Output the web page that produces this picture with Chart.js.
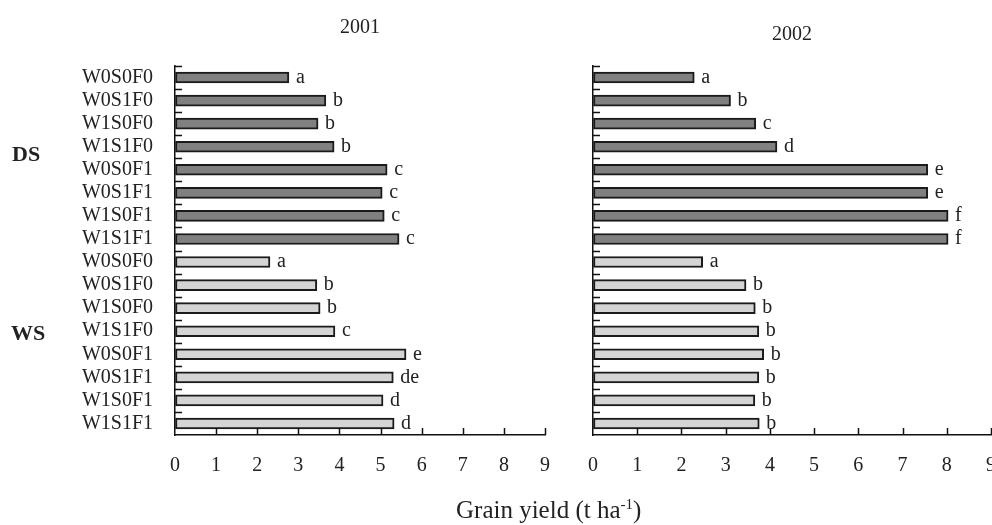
<!DOCTYPE html>
<html>
<head>
<meta charset="utf-8">
<script src="https://cdn.jsdelivr.net/npm/chart.js@4.4.0/dist/chart.umd.min.js"></script>
<style>
  body { margin: 0; background: #fff; overflow: hidden; }
  #wrap { position: relative; width: 992px; height: 525px; overflow: hidden; font-family: 'Liberation Serif', 'Times New Roman', serif; color: #222; }
  canvas { position: absolute; top: 0; }
  #chart2001 { left: 0; }
  #chart2002 { left: 560px; }
  .season { position: absolute; font-weight: bold; font-size: 22px; }
  #xtitle { position: absolute; top: 496px; left: 456px; font-size: 25px; white-space: nowrap; }
  #xtitle sup { font-size: 15px; }
</style>
</head>
<body>
<div id="wrap">
  <canvas id="chart2001" width="560" height="525"></canvas>
  <!-- wider than the page on purpose: the last "9" gets cut at the edge like the original -->
  <canvas id="chart2002" width="438" height="525"></canvas>
  <div class="season" style="left:12px; top:141px;">DS</div>
  <div class="season" style="left:11px; top:320px;">WS</div>
  <div id="xtitle">Grain yield (t ha<sup>-1</sup>)</div>
</div>
<script>
// treatments, dry season first then wet season
const treatments = ['W0S0F0', 'W0S1F0', 'W1S0F0', 'W1S1F0', 'W0S0F1', 'W0S1F1', 'W1S0F1', 'W1S1F1'];
const categories = treatments.concat(treatments);

const dsYield2001 = [2.77, 3.67, 3.48, 3.87, 5.16, 5.04, 5.09, 5.45];
const wsYield2001 = [2.31, 3.45, 3.53, 3.89, 5.62, 5.31, 5.06, 5.33];
const dsYield2002 = [2.29, 3.11, 3.68, 4.16, 7.57, 7.57, 8.03, 8.03];
const wsYield2002 = [2.48, 3.46, 3.67, 3.75, 3.86, 3.75, 3.66, 3.76];

const dsLetters2001 = ['a', 'b', 'b', 'b', 'c', 'c', 'c', 'c'];
const wsLetters2001 = ['a', 'b', 'b', 'c', 'e', 'de', 'd', 'd'];
const dsLetters2002 = ['a', 'b', 'c', 'd', 'e', 'e', 'f', 'f'];
const wsLetters2002 = ['a', 'b', 'b', 'b', 'b', 'b', 'b', 'b'];

const xTicks = [0, 1, 2, 3, 4, 5, 6, 7, 8, 9];

const DS_COLOR = '#808080';
const WS_COLOR = '#d4d4d4';
const FONT = 'Liberation Serif';

// inward tick marks on both axes + significance letters next to each bar
const marksPlugin = {
    id: 'marks',
    afterDatasetsDraw(chart) {
        const ctx = chart.ctx;
        const x = chart.scales.x;
        const y = chart.scales.y;
        ctx.save();
        ctx.strokeStyle = '#111';
        ctx.lineWidth = 1.5;
        ctx.beginPath();
        const half = (y.getPixelForValue(1) - y.getPixelForValue(0)) / 2;
        for (let i = 0; i < categories.length; i++) {
            const py = Math.round(y.getPixelForValue(i) - half) + 0.5;
            ctx.moveTo(x.left, py);
            ctx.lineTo(x.left + 7, py);
        }
        xTicks.forEach(v => {
            if (v === 0) return;
            const px = Math.round(x.getPixelForValue(v)) + 0.5;
            ctx.moveTo(px, x.top);
            ctx.lineTo(px, x.top - 7);
        });
        ctx.stroke();

        const letters = chart.options.plugins.marks.letters;
        ctx.fillStyle = '#222';
        ctx.font = '20px ' + FONT;
        ctx.textBaseline = 'middle';
        ctx.textAlign = 'left';
        chart.getDatasetMeta(0).data.forEach((bar, i) => {
            ctx.fillText(letters[i], bar.x + 7, bar.y);
        });
        ctx.restore();
    }
};

function makeChart(id, year, ds, ws, dsLetters, wsLetters, yWidth, showLabels, padRight, titlePad) {
    const values = ds.concat(ws);
    const colors = ds.map(() => DS_COLOR).concat(ws.map(() => WS_COLOR));
    return new Chart(document.getElementById(id).getContext('2d'), {
        type: 'bar',
        data: {
            labels: categories,
            datasets: [{
                data: values,
                backgroundColor: colors,
                borderColor: '#1a1a1a',
                borderWidth: 2,
                borderSkipped: false,
                barThickness: 11
            }]
        },
        options: {
            indexAxis: 'y',
            responsive: false,
            animation: false,
            layout: { padding: { right: padRight, top: 0, bottom: 0, left: 0 } },
            scales: {
                y: {
                    offset: true,
                    grid: { drawOnChartArea: false, drawTicks: false },
                    border: { color: '#111', width: 1.5 },
                    ticks: {
                        display: showLabels,
                        padding: 22,
                        color: '#222',
                        font: { family: FONT, size: 20 },
                        autoSkip: false
                    },
                    afterFit: s => { s.width = yWidth; }
                },
                x: {
                    min: 0,
                    max: 9,
                    // invisible tick length pushes the labels down without widening the side padding
                    grid: { drawOnChartArea: false, drawTicks: true, tickLength: 17, tickColor: 'rgba(0,0,0,0)' },
                    border: { color: '#111', width: 1.5 },
                    afterBuildTicks: s => { s.ticks = xTicks.map(v => ({ value: v })); },
                    ticks: {
                        padding: 2,
                        color: '#222',
                        font: { family: FONT, size: 20 },
                        maxRotation: 0
                    },
                    afterFit: s => { s.height = 90; }
                }
            },
            plugins: {
                legend: { display: false },
                tooltip: { enabled: false },
                title: {
                    display: true,
                    text: year,
                    fullSize: false,
                    color: '#222',
                    font: { family: FONT, size: 20, weight: 'normal' },
                    padding: titlePad
                },
                marks: { letters: dsLetters.concat(wsLetters) }
            }
        },
        plugins: [marksPlugin]
    });
}

makeChart('chart2001', '2001', dsYield2001, wsYield2001, dsLetters2001, wsLetters2001, 175, true, 15, { top: 16, bottom: 26 });
makeChart('chart2002', '2002', dsYield2002, wsYield2002, dsLetters2002, wsLetters2002, 33, false, 0, { top: 23, bottom: 19 });
</script>
</body>
</html>
